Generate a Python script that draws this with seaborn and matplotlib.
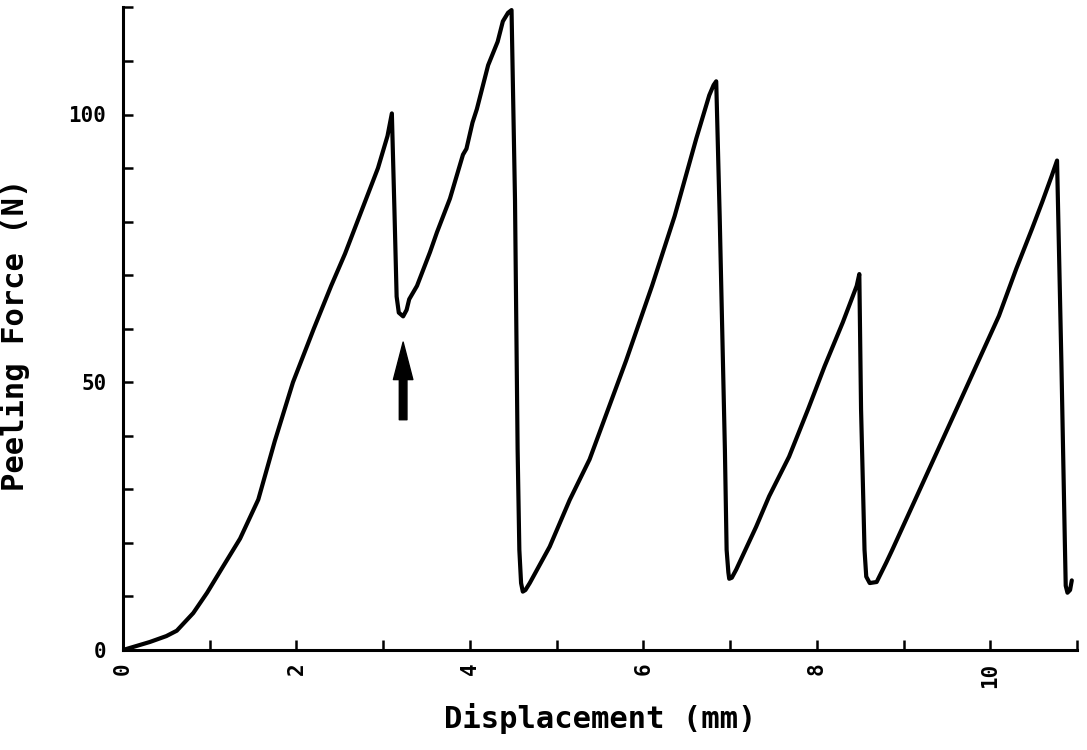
import matplotlib
matplotlib.use("Agg")
import matplotlib.pyplot as plt
import seaborn as sns
import pandas as pd
from matplotlib.ticker import MultipleLocator

# Data (Displacement in mm, Peeling Force in N)
displacement = [0.00, 0.31, 0.50, 0.62, 0.81, 0.97, 1.15, 1.35, 1.56, 1.75, 1.96,
                2.20, 2.40, 2.56, 2.75, 2.94, 3.05, 3.10, 3.13, 3.155, 3.18,
                3.23, 3.27, 3.30, 3.39, 3.54, 3.62, 3.77, 3.92, 3.96, 4.03,
                4.08, 4.21, 4.32, 4.38, 4.44, 4.48, 4.52, 4.55, 4.57, 4.59,
                4.61, 4.64, 4.69, 4.92, 5.15, 5.38, 5.80, 6.10, 6.36, 6.61,
                6.76, 6.81, 6.84, 6.88, 6.94, 6.96, 6.98, 6.99, 7.02, 7.07,
                7.30, 7.45, 7.68, 7.90, 8.09, 8.30, 8.46, 8.49, 8.51, 8.55,
                8.57, 8.61, 8.69, 8.80, 8.87, 9.20, 9.60, 9.85, 10.10, 10.30,
                10.48, 10.60, 10.71, 10.77, 10.82, 10.86, 10.87, 10.89, 10.92, 10.94]
force = [0.0, 1.5, 2.6, 3.6, 6.9, 10.7, 15.5, 20.8, 28.1, 39.0, 50.0,
         60.0, 68.0, 74.0, 82.0, 90.0, 96.0, 100.2, 82.0, 66.0, 63.0,
         62.3, 63.5, 65.5, 68.0, 74.3, 78.0, 84.3, 92.5, 93.6, 98.5,
         101.0, 109.2, 113.6, 117.4, 119.0, 119.5, 84.0, 37.5, 18.7, 12.5,
         10.9, 11.2, 12.5, 19.3, 28.0, 35.6, 54.0, 68.0, 81.0, 95.5,
         103.6, 105.5, 106.2, 81.0, 37.5, 18.7, 14.5, 13.3, 13.5, 15.0,
         23.0, 28.7, 36.1, 45.0, 53.0, 61.2, 68.0, 70.2, 45.0, 18.7,
         13.7, 12.5, 12.7, 16.3, 18.7, 30.4, 44.6, 53.5, 62.4, 71.2,
         78.6, 83.7, 88.6, 91.4, 53.7, 20.0, 12.0, 10.7, 11.2, 13.0]

x_major = [0, 2, 4, 6, 8, 10]
y_major = [0, 50, 100]
x_label = "Displacement (mm)"
y_label = "Peeling Force (N)"
arrow_x = 3.23
arrow_tip, arrow_tail = 57.5, 43.0

df = pd.DataFrame({"Displacement": displacement, "Force": force})

sns.set_theme(style="ticks")
plt.rcParams["font.family"] = ["DejaVu Sans Mono", "DejaVu Sans"]
plt.rcParams["font.weight"] = "bold"
plt.rcParams["text.color"] = "black"
plt.rcParams["axes.labelcolor"] = "black"
plt.rcParams["xtick.color"] = "black"
plt.rcParams["ytick.color"] = "black"

fig = plt.figure(figsize=(10.87, 7.5), dpi=100)
ax = fig.add_axes([123/1087, 1 - 650/750, (1077 - 123)/1087, (650 - 7.4)/750])

sns.lineplot(data=df, x="Displacement", y="Force", sort=False, estimator=None,
             color="black", linewidth=3.0, ax=ax)

ax.annotate("", xy=(arrow_x, arrow_tip), xytext=(arrow_x, arrow_tail),
            arrowprops=dict(facecolor="black", edgecolor="black", width=5.5,
                            headwidth=14, headlength=27, shrink=0))

ax.set_xlim(0, 11)
ax.set_ylim(0, 120)
ax.set_xticks(x_major)
ax.set_xticklabels([str(v) for v in x_major], rotation=90, fontsize=15,
                   fontweight="bold", color="black")
ax.set_yticks(y_major)
ax.set_yticklabels([str(v) for v in y_major], fontsize=15, fontweight="bold",
                   color="black")
ax.xaxis.set_minor_locator(MultipleLocator(1))
ax.yaxis.set_minor_locator(MultipleLocator(10))
ax.tick_params(axis="both", which="both", direction="in", length=7, width=1.8, color="black")
ax.tick_params(axis="x", which="major", pad=9)
ax.tick_params(axis="y", which="major", pad=12)

sns.despine(ax=ax)
for s in ["left", "bottom"]:
    ax.spines[s].set_linewidth(2.2)
    ax.spines[s].set_color("black")

ax.set_xlabel(x_label, fontsize=22, fontweight="bold", color="black")
ax.set_ylabel(y_label, fontsize=22, fontweight="bold", color="black")
ax.xaxis.set_label_coords(0.5, -0.083)
ax.yaxis.set_label_coords(-0.097, 0.49)
ax.grid(False)

fig.savefig("out.png", dpi=100, facecolor="white")
